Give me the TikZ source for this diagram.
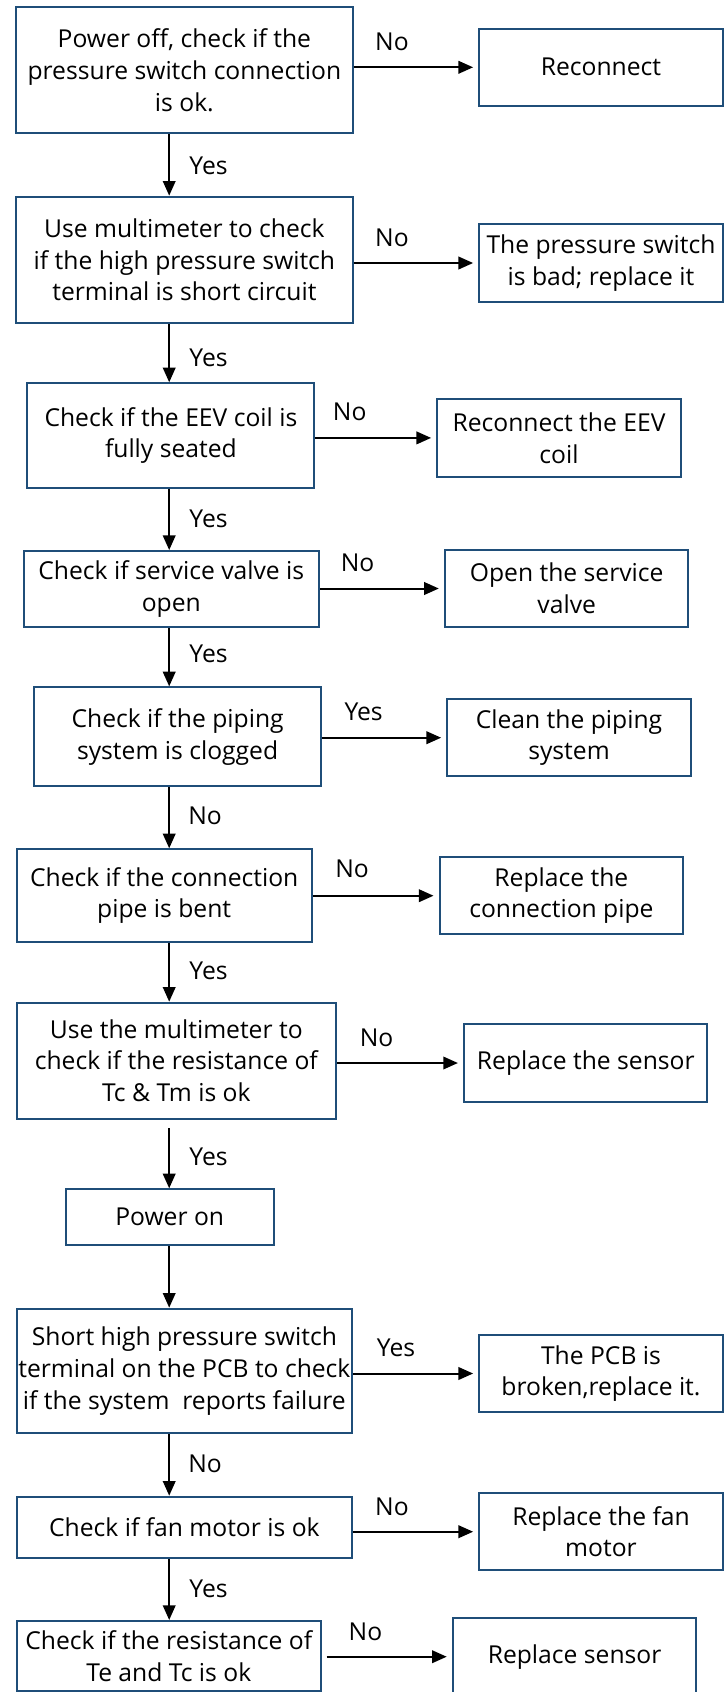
\documentclass[tikz,border=0pt]{standalone}
\usepackage{fontspec}
\setmainfont{Open Sans}
\usetikzlibrary{arrows.meta}

\definecolor{boxblue}{RGB}{31,78,121}

\tikzset{every picture/.style={line width=0.75pt}}
\tikzset{
  chk/.style={draw=boxblue, line width=1.5, align=center, inner sep=0pt, font=\fontsize{18.5}{23.8}\selectfont},
  fixbox/.style={chk, minimum width=182.3pt, minimum height=58pt},
  lbl/.style={inner sep=0pt, font=\fontsize{18.5}{23.8}\selectfont},
  flow/.style={line width=1.5, -{Triangle[length=11pt,width=9.4pt]}},
  side/.style={flow, shorten >=4pt},
}

\begin{document}
\begin{tikzpicture}[x=0.75pt,y=0.75pt,yscale=-1,xscale=1]
\useasboundingbox (0,0) rectangle (728,1692);

%trunk of the down arrows
\coordinate (trunk) at (169.2,0);

%Checks
\node [chk, minimum width=252.2pt, minimum height=94.5pt] (pwroff) at (184.4,70.3) {Power off, check if the\\pressure switch connection\\is ok.};
\node [chk, minimum width=252.2pt, minimum height=95pt] (hps) at (184.4,260) {Use multimeter to check\\if the high pressure switch\\terminal is short circuit};
\node [chk, minimum width=215.3pt, minimum height=78.3pt] (eev) at (170.9,435.5) {Check if the EEV coil is\\fully seated};
\node [chk, minimum width=221.6pt, minimum height=57.2pt] (valve) at (171.3,589.2) {Check if service valve is\\open};
\node [chk, minimum width=215.7pt, minimum height=74pt] (clog) at (177.6,736.7) {Check if the piping\\system is clogged};
\node [chk, minimum width=221.3pt, minimum height=69.3pt] (bent) at (164.2,895.5) {Check if the connection\\pipe is bent};
\node [chk, minimum width=239.3pt, minimum height=87pt] (tctm) at (176.3,1060.7) {Use the multimeter to\\check if the resistance of\\Tc \& Tm is ok};
\node [chk, minimum width=155.9pt, minimum height=41.8pt] (pwron) at (169.7,1217.2) {Power on};
\node [chk, minimum width=251.5pt, minimum height=93.5pt] (pcb) at (184.4,1371) {Short high pressure switch\\terminal on the PCB to check\\if the system\ \ reports failure};
\node [chk, minimum width=251.5pt, minimum height=46.2pt] (fan) at (184.4,1527.5) {Check if fan motor is ok};
\node [chk, minimum width=228.2pt, minimum height=52.5pt] (tetc) at (168.8,1656) {Check if the resistance of\\Te and Tc is ok};

%Fixes
\node [fixbox] (reconn) at (601,67.3) {Reconnect};
\node [fixbox] (badsw) at (601,263) {The pressure switch\\is bad; replace it};
\node [fixbox] (coil) at (559,437.9) {Reconnect the EEV\\coil};
\node [fixbox] (open) at (566.7,588.5) {Open the service\\valve};
\node [fixbox] (clean) at (569,737.7) {Clean the piping\\system};
\node [fixbox] (pipe) at (561.4,895.7) {Replace the\\connection pipe};
\node [fixbox] (sens1) at (585.8,1063) {Replace the sensor};
\node [fixbox] (brkn) at (601,1373.5) {The PCB is\\broken,replace it.};
\node [fixbox] (motor) at (601,1531.7) {Replace the fan\\motor};
\node [fixbox] (sens2) at (574.6,1656.7) {Replace sensor};

%Down arrows
\draw [flow] (pwroff.south -| trunk) -- (hps.north -| trunk);
\draw [flow] (hps.south -| trunk) -- (eev.north -| trunk);
\draw [flow] (eev.south -| trunk) -- (valve.north -| trunk);
\draw [flow] (valve.south -| trunk) -- (clog.north -| trunk);
\draw [flow] (clog.south -| trunk) -- (bent.north -| trunk);
\draw [flow] (bent.south -| trunk) -- (tctm.north -| trunk);
\draw [flow, shorten <=6.5pt] (tctm.south -| trunk) -- (pwron.north -| trunk);
\draw [flow] (pwron.south -| trunk) -- (pcb.north -| trunk);
\draw [flow] (pcb.south -| trunk) -- (fan.north -| trunk);
\draw [flow] (fan.south -| trunk) -- (tetc.north -| trunk);

%Side arrows
\draw [side] (pwroff.east |- reconn.west) -- (reconn.west);
\draw [side] (hps.east |- badsw.west) -- (badsw.west);
\draw [side] (eev.east |- coil.west) -- (coil.west);
\draw [side] (valve.east |- open.west) -- (open.west);
\draw [side] (clog.east |- clean.west) -- (clean.west);
\draw [side] (bent.east |- pipe.west) -- (pipe.west);
\draw [side] (tctm.east |- sens1.west) -- (sens1.west);
\draw [side] (pcb.east |- brkn.west) -- (brkn.west);
\draw [side] (fan.east |- motor.west) -- (motor.west);
\draw [side, shorten <=3.5pt] (tetc.east |- sens2.west) -- (sens2.west);

%Labels
\node [lbl] (y1) at (208.5,166) {Yes};
\node [lbl] (y2) at (208.5,357.7) {Yes};
\node [lbl] (y3) at (208.5,519) {Yes};
\node [lbl] (y4) at (208.5,654) {Yes};
\node [lbl] (n5) at (205,816) {No};
\node [lbl] (y6) at (208.5,970.7) {Yes};
\node [lbl] (y7) at (208.5,1157) {Yes};
\node [lbl] (n9) at (205,1464) {No};
\node [lbl] (y10) at (208.5,1589) {Yes};

\node [lbl] (s1) at (391.9,41.7) {No};
\node [lbl] (s2) at (391.9,238) {No};
\node [lbl] (s3) at (349.7,411.7) {No};
\node [lbl] (s4) at (357.6,562.7) {No};
\node [lbl] (s5) at (363.6,712.3) {Yes};
\node [lbl] (s6) at (352,869.3) {No};
\node [lbl] (s7) at (376.6,1037.7) {No};
\node [lbl] (s9) at (396,1348) {Yes};
\node [lbl] (s10) at (391.9,1506.7) {No};
\node [lbl] (s11) at (365.4,1632) {No};

\end{tikzpicture}
\end{document}
